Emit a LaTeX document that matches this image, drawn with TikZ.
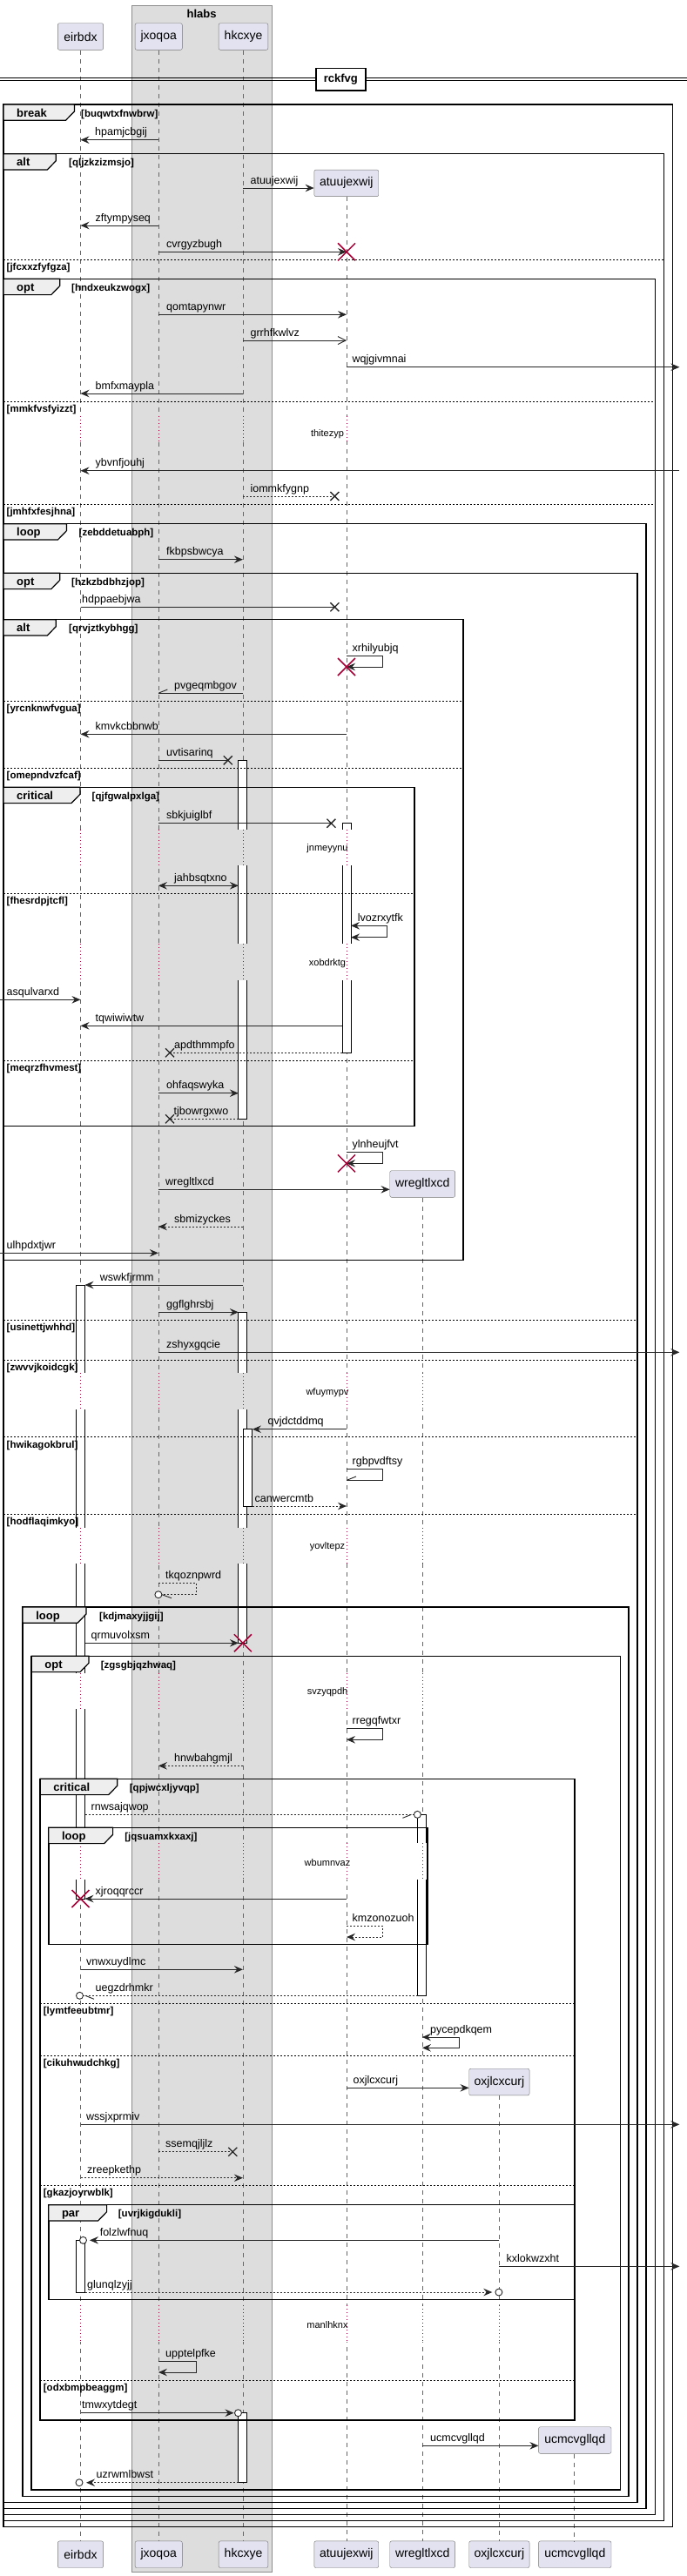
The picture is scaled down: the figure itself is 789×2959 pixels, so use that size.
\documentclass[tikz,border=0pt]{standalone}
\usepackage{fontspec}
\setmainfont{Liberation Sans}
\usetikzlibrary{arrows.meta}
\definecolor{partfill}{HTML}{E2E2F0}
\definecolor{boxgrey}{HTML}{DDDDDD}
\definecolor{tabfill}{HTML}{EEEEEE}
\definecolor{pred}{HTML}{A80036}
\newcommand\mf{\fontsize{12.5}{14}\selectfont}
\newcommand\pf{\fontsize{14}{16}\selectfont}
\newcommand\gf{\fontsize{13}{15}\selectfont\bfseries}
\newcommand\cf{\fontsize{11.5}{13}\selectfont\bfseries}
\newcommand\df{\fontsize{11}{13}\selectfont}
\tikzset{
 x=1pt, y=-1pt,
 part/.style={draw=black!55, fill=partfill, rounded corners=2pt, font=\pf, inner sep=0pt, minimum height=30.6pt},
 lifeline/.style={draw=black!60, line width=0.8pt, dash pattern=on 5pt off 5pt},
 delayline/.style={draw=pred, line width=0.8pt, dash pattern=on 1pt off 3pt},
 plain/.style={line width=0.9pt, draw=black!85},
 dplain/.style={plain, dash pattern=on 2pt off 2pt},
 msg/.style={plain, -{Stealth[length=10pt,width=8.5pt,inset=3.5pt]}},
 dmsg/.style={msg, dash pattern=on 2pt off 2pt},
 bmsg/.style={plain, {Stealth[length=10pt,width=8.5pt,inset=3.5pt]}-{Stealth[length=10pt,width=8.5pt,inset=3.5pt]}},
 omsg/.style={plain, -{Straight Barb[length=9pt,width=9pt]}},
 lbl/.style={font=\mf, anchor=base west, inner sep=0pt, yshift=5pt},
 fbox/.style={draw=black, line width=1.5pt},
 ftab/.style={draw=black, line width=1.2pt, fill=tabfill},
 elsel/.style={draw=black, line width=0.8pt, dash pattern=on 2pt off 2pt},
 actbox/.style={draw=black, line width=0.9pt, fill=white},
}
\newcommand\Frm[8]{%
 \draw[fbox] (#1,#2) rectangle (#3,#4);
 \draw[ftab] (#1,#2) -- (#5,#2) -- (#5,#2+8) -- (#5-10,#2+18.3) -- (#1,#2+18.3) -- cycle;
 \node[font=\gf, anchor=base west, inner sep=0pt] at (#1+15,#2+14) {#6};
 \node[font=\cf, anchor=base west, inner sep=0pt] at (#7,#2+14) {#8};}
\newcommand\Els[4]{%
 \draw[elsel] (#1,#3) -- (#2,#3);
 \node[font=\cf, anchor=base west, inner sep=0pt] at (#1+3.5,#3+12.5) {#4};}
\newcommand\Msg[6][msg]{%
 \draw[#1] (#2 |- 0,#4) -- (#3 |- 0,#4);
 \node[lbl] at (#5,#4) {#6};}
\newcommand\Self[7][msg]{%
 \draw[#1] (#2 |- 0,#3) -- (#5,#3) -- (#5,#4) -- (#2 |- 0,#4);
 \node[lbl] at (#6,#3) {#7};}
\newcommand\RX[2]{\draw[pred, line width=1.5pt] (#1-10,#2-10) -- (#1+10,#2+10) (#1-10,#2+10) -- (#1+10,#2-10);}
\newcommand\LX[2]{\draw[black!85, line width=1.3pt] (#1-5,#2-5) -- (#1+5,#2+5) (#1-5,#2+5) -- (#1+5,#2-5);}
\newcommand\OC[2]{\draw[plain, fill=white] (#1,#2) circle (4);}
\newcommand\Act[4]{\draw[actbox] (#1,#3) rectangle (#2,#4);}
\newcommand\Dseg[4]{\fill[#2] (#1)++(-6,#3) rectangle ++(12,#4-#3); \draw[delayline] (#1 |- 0,#3) -- (#1 |- 0,#4);}
\newcommand\Dtext[2]{\node[font=\df] at (376,#1) {#2};}
\begin{document}
\begin{tikzpicture}
\useasboundingbox (0,0) rectangle (789,2959);
\fill[white] (0,0) rectangle (789,2959);
% lifeline x positions
\coordinate (E) at (92.5,0); \coordinate (J) at (181.9,0); \coordinate (H) at (278.9,0);
\coordinate (A) at (398,0); \coordinate (W) at (484.9,0); \coordinate (O) at (573.4,0);
\coordinate (U) at (659.8,0);
\coordinate (El) at (87.5,0); \coordinate (Er) at (97.5,0);
\coordinate (Hl) at (273.9,0); \coordinate (Hnr) at (289.9,0);
\coordinate (Al) at (393,0); \coordinate (Ar) at (403,0);
\coordinate (Wl) at (479.9,0);
\coordinate (R) at (780.4,0); \coordinate (L) at (0,0);
% box
\draw[draw=black!45, fill=boxgrey, line width=0.8pt] (151.3,6) rectangle (312,2954.3);
\node[font=\gf] (hlabs) at (231.6,15.5) {hlabs};
% participants
\node[part, minimum width=52.3pt] (eH) at (92.5,42) {eirbdx};
\node[part, minimum width=54.2pt] (jH) at (182.2,42) {jxoqoa};
\node[part, minimum width=56.7pt] (hH) at (279.5,42) {hkcxye};
\node[part, minimum width=73.9pt] (aH) at (397.8,210.35) {atuujexwij};
\node[part, minimum width=74.9pt] (wH) at (485.2,1360) {wregltlxcd};
\node[part, minimum width=69.3pt] (oH) at (573.4,2391.5) {oxjlcxcurj};
\node[part, minimum width=83.4pt] (uH) at (660.3,2803) {ucmcvgllqd};
\node[part, minimum width=52.3pt] (eF) at (92.5,2934.2) {eirbdx};
\node[part, minimum width=54.2pt] (jF) at (182.2,2934.2) {jxoqoa};
\node[part, minimum width=56.7pt] (hF) at (279.5,2934.2) {hkcxye};
\node[part, minimum width=73.9pt] (aF) at (397.8,2934.2) {atuujexwij};
\node[part, minimum width=74.9pt] (wF) at (485.2,2934.2) {wregltlxcd};
\node[part, minimum width=69.3pt] (oF) at (573.4,2934.2) {oxjlcxcurj};
\node[part, minimum width=83.4pt] (uF) at (660.3,2934.2) {ucmcvgllqd};
% lifelines
\draw[lifeline] (E |- eH.south) -- (E |- eF.north);
\draw[lifeline] (J |- jH.south) -- (J |- jF.north);
\draw[lifeline] (H |- hH.south) -- (H |- hF.north);
\draw[lifeline] (A |- aH.south) -- (A |- aF.north);
\draw[lifeline] (W |- wH.south) -- (W |- wF.north);
\draw[lifeline] (O |- oH.south) -- (O |- oF.north);
\draw[lifeline] (U |- uH.south) -- (U |- uF.north);
% activations
\Act{273.9}{283.9}{873.3}{1285.3}
\Act{393}{403}{945.7}{1209.3}
\Act{87.5}{97.5}{1476}{2181}
\Act{273.9}{283.9}{1507.3}{1887.3}
\Act{279.9}{289.9}{1641.7}{1730}
\Act{479.9}{489.9}{2084.3}{2292.3}
\Act{87.5}{97.5}{2573.3}{2633}
\Act{273.9}{283.9}{2771.7}{2851.7}
% delays
\foreach \a/\b in {478/507, 953.3/994, 1084.3/1125.7, 1577.3/1619, 1755/1795.7, 1922/1963, 2117/2159, 2648/2690}{
 \Dseg{E}{white}{\a}{\b} \Dseg{J}{boxgrey}{\a}{\b} \Dseg{H}{boxgrey}{\a}{\b} \Dseg{A}{white}{\a}{\b}}
\foreach \a/\b in {1577.3/1619, 1755/1795.7, 1922/1963, 2117/2159, 2648/2690}{\Dseg{W}{white}{\a}{\b}}
\Dseg{O}{white}{2648}{2690}
\Dtext{498.3}{thitezyp}
\Dtext{974.3}{jnmeyynu}
\Dtext{1106.7}{xobdrktg}
\Dtext{1600}{wfuymypv}
\Dtext{1776.7}{yovltepz}
\Dtext{1943.3}{svzyqpdh}
\Dtext{2140}{wbumnvaz}
\Dtext{2670.7}{manlhknx}
% frames
\Frm{4}{120}{772.4}{2902.7}{85.4}{break}{93}{[buqwtxfnwbrw]}
\Frm{4}{176.7}{762.3}{2895.7}{64.3}{alt}{79}{[qljzkzizmsjo]}
\Frm{4}{320.3}{752.3}{2888.3}{68.8}{opt}{82}{[hndxeukzwogx]}
\Frm{4}{601.7}{742.2}{2881.7}{76.4}{loop}{90.5}{[zebddetuabph]}
\Frm{4}{658.3}{732.2}{2874.3}{68.8}{opt}{82}{[hzkzbdbhzjop]}
\Frm{4}{711.7}{532.2}{1447.3}{64.3}{alt}{79}{[qrvjztkybhgg]}
\Frm{4}{904.3}{475.9}{1293.3}{92}{critical}{105.5}{[qjfgwalpxlga]}
\Frm{26.1}{1846}{722.1}{2867.3}{99}{loop}{114}{[kdjmaxyjjgij]}
\Frm{36.2}{1902.3}{712.6}{2860}{102}{opt}{115.6}{[zgsgbjqzhwaq]}
\Frm{46.2}{2043.3}{659.8}{2780}{134.7}{critical}{148.7}{[qpjwcxljyvqp]}
\Frm{55.8}{2099.3}{491}{2233.3}{129.6}{loop}{143.2}{[jqsuamxkxaxj]}
\Frm{55.8}{2532.7}{659.8}{2641.7}{122.6}{par}{135.7}{[uvrjkigdukli]}
\Els{4}{762.3}{298.3}{[jfcxxzfyfgza]}
\Els{4}{752.3}{461}{[mmkfvsfyizzt]}
\Els{4}{752.3}{579.3}{[jmhfxfesjhna]}
\Els{4}{532.2}{805.3}{[yrcnknwfvgua]}
\Els{4}{532.2}{882}{[omepndvzfcaf]}
\Els{4}{475.9}{1026.3}{[fhesrdpjtcfl]}
\Els{4}{475.9}{1218.3}{[meqrzfhvmest]}
\Els{4}{732.2}{1516.3}{[usinettjwhhd]}
\Els{4}{732.2}{1562.3}{[zwvvjkoidcgk]}
\Els{4}{732.2}{1650.7}{[hwikagokbrul]}
\Els{4}{732.2}{1739}{[hodflaqimkyo]}
\Els{46.2}{659.8}{2301.3}{[lymtfeeubtmr]}
\Els{46.2}{659.8}{2361}{[cikuhwudchkg]}
\Els{46.2}{659.8}{2510.3}{[gkazjoyrwblk]}
\Els{46.2}{659.8}{2734.3}{[odxbmpbeaggm]}
% divider
\draw[line width=1.2pt] (0,89.3) -- (789,89.3) (0,92.7) -- (789,92.7);
\node[draw, line width=1.5pt, fill=white, minimum width=57.2pt, minimum height=25.3pt, font=\gf, inner sep=0pt] (rck) at (391.4,91.3) {rckfvg};
% messages
\Msg{J}{E}{160.7}{109}{hpamjcbgij}
\Msg{H}{aH.west}{216}{287.4}{atuujexwij}
\Msg{J}{E}{259}{109.5}{zftympyseq}
\Msg{J}{A}{289.3}{191}{cvrgyzbugh}
\RX{398}{289.3}
\Msg{J}{A}{361.3}{191}{qomtapynwr}
\Msg[omsg]{H}{A}{391}{287.4}{grrhfkwlvz}
\Msg{A}{R}{421.7}{404.5}{wqjgivmnai}
\Msg{H}{E}{452}{109.5}{bmfxmaypla}
\Msg{R}{E}{540.7}{109.5}{ybvnfjouhj}
\Msg[dplain]{H}{384.4,0}{570}{287.4}{iommkfygnp}
\LX{384.4}{570}
\Msg{J}{H}{642.7}{191}{fkbpsbwcya}
\Msg[plain]{E}{384.4,0}{697.3}{94}{hdppaebjwa}
\LX{384.4}{697.3}
\Self{A}{753.3}{766}{439.7}{404.5}{xrhilyubjq}
\RX{398}{766}
\Msg[plain]{H}{J}{796}{200}{pvgeqmbgov}
\draw[plain] (182.4,796) -- (192.4,792);
\Msg{A}{E}{843.3}{109.5}{kmvkcbbnwb}
\Msg[plain]{J}{261.8,0}{873.3}{191}{uvtisarinq}
\LX{261.8}{873.3}
\Msg[plain]{J}{380.4,0}{945.7}{191}{sbkjuiglbf}
\LX{380.4}{945.7}
\Msg[bmsg]{J}{Hl}{1017.3}{200}{jahbsqtxno}
\Self[bmsg]{Ar}{1063.3}{1076.7}{444.7}{410.6}{lvozrxytfk}
\Msg{L}{E}{1148.3}{7.5}{asqulvarxd}
\Msg{Al}{E}{1178.3}{109.5}{tqwiwiwtw}
\Msg[dplain]{Al}{195,0}{1209.3}{200}{apdthmmpfo}
\LX{195}{1209.3}
\Msg{J}{Hl}{1255.7}{191}{ohfaqswyka}
\Msg[dplain]{Hl}{195,0}{1285.3}{199.5}{tjbowrgxwo}
\LX{195}{1285.3}
\Self{A}{1323.7}{1336.3}{439.7}{404.5}{ylnheujfvt}
\RX{398}{1336.3}
\Msg{J}{wH.west}{1366.3}{190}{wregltlxcd}
\Msg[dmsg]{H}{J}{1409}{200}{sbmizyckes}
\Msg{L}{J}{1439.3}{7.5}{ulhpdxtjwr}
\Msg{H}{Er}{1476}{114.6}{wswkfjrmm}
\Msg{J}{Hl}{1507.3}{191}{ggflghrsbj}
\Msg{J}{R}{1553.3}{191}{zshyxgqcie}
\Msg{A}{Hnr}{1641.7}{307.5}{qvjdctddmq}
\Self[plain]{A}{1687.3}{1700}{439.7}{404.5}{rgbpvdftsy}
\draw[plain] (399,1700) -- (409,1696);
\Msg[dmsg]{Hnr}{A}{1730}{292.5}{canwercmtb}
\Self[dplain]{J}{1818.3}{1831.7}{225}{190}{tkqoznpwrd}
\OC{181.9}{1831.7}
\draw[plain] (186,1831.7) -- (197,1835.7);
\Msg{Er}{Hl}{1887.3}{104.5}{qrmuvolxsm}
\RX{278.9}{1887.3}
\Self{A}{1985.7}{1998.3}{439.7}{404.5}{rregqfwtxr}
\Msg[dmsg]{H}{J}{2028.3}{200}{hnwbahgmjl}
\Msg[dplain]{Er}{475.4,0}{2084.3}{104.5}{rnwsajqwop}
\OC{479.4}{2084.3}
\draw[plain] (472.4,2084.3) -- (462.4,2088.3);
\Msg{A}{Er}{2181}{109.5}{xjroqqrccr}
\RX{92.5}{2181}
\Self[dmsg]{A}{2212.3}{2225}{439.7}{404.5}{kmzonozuoh}
\Msg{E}{H}{2262.3}{99}{vnwxuydlmc}
\Msg[dplain]{Wl}{95.5,0}{2292.3}{109.5}{uegzdrhmkr}
\OC{91.5}{2292.3}
\draw[plain] (98,2292.3) -- (108,2296.3);
\Self[bmsg]{W}{2340}{2352.3}{527.6}{494}{pycepdkqem}
\Msg{A}{oH.west}{2398.3}{405.5}{oxjlcxcurj}
\Msg{E}{R}{2440.3}{99}{wssjxprmiv}
\Msg[dplain]{J}{267.3,0}{2471.7}{190}{ssemqjljlz}
\LX{267.3}{2471.7}
\Msg[dmsg]{E}{H}{2501.7}{100}{zreepkethp}
\Msg{O}{103,0}{2573.3}{114.6}{folzlwfnuq}
\OC{95.5}{2573.3}
\Msg{O}{R}{2603.3}{581.4}{kxlokwzxht}
\Msg[dmsg]{Er}{565.3,0}{2633}{100}{glunqlzyjj}
\OC{572.9}{2633}
\Self{J}{2712.3}{2725}{225}{190}{upptelpfke}
\Msg{E}{268.5,0}{2771.7}{94}{tmwxytdegt}
\OC{273.5}{2771.7}
\Msg{W}{uH.west}{2809.3}{494}{ucmcvgllqd}
\Msg[dmsg]{Hl}{99,0}{2851.7}{110.5}{uzrwmlbwst}
\OC{91}{2851.7}
\end{tikzpicture}
\end{document}
